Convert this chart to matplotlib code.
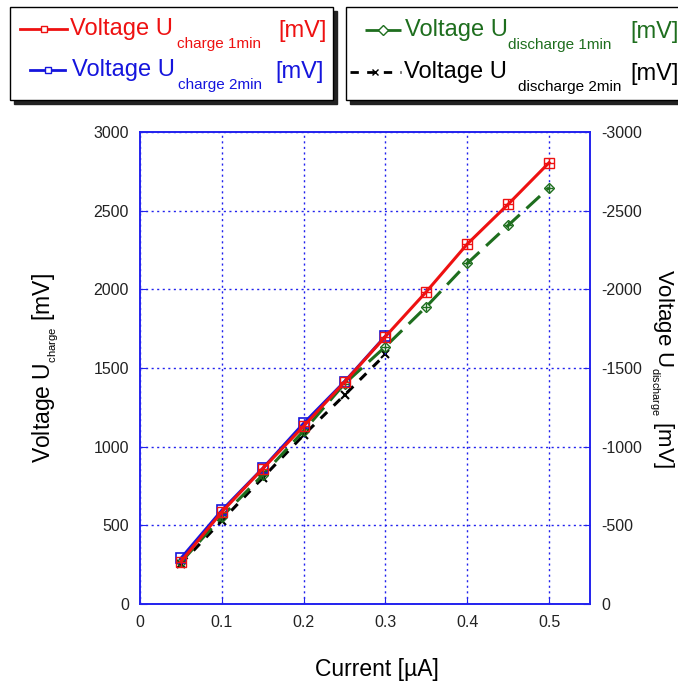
import matplotlib
matplotlib.use("Agg")
import matplotlib.pyplot as plt
from matplotlib.lines import Line2D
from matplotlib.patches import Rectangle

plt.rcParams['font.family'] = ['Liberation Sans', 'DejaVu Sans']
plt.rcParams['mathtext.fontset'] = 'custom'
plt.rcParams['mathtext.rm'] = 'Liberation Sans'

# data
current_1 = [0.05, 0.10, 0.15, 0.20, 0.25, 0.30, 0.35, 0.40, 0.45, 0.50]
charge_1min = [270, 585, 860, 1130, 1410, 1700, 1985, 2288, 2541, 2805]
discharge_1min = [265, 555, 820, 1100, 1400, 1636, 1890, 2165, 2407, 2646]

current_2 = [0.05, 0.10, 0.15, 0.20, 0.25, 0.30]
charge_2min = [290, 595, 862, 1148, 1413, 1703]
discharge_2min = [255, 530, 803, 1074, 1328, 1587]

xticks = [0, 0.1, 0.2, 0.3, 0.4, 0.5]
yticks = [0, 500, 1000, 1500, 2000, 2500, 3000]

RED = '#ee1111'
BLUE = '#1515dd'
GREEN = '#1e6e1e'
BLACK = '#000000'
AXBLUE = '#2222ee'

W, H = 678, 690
fig = plt.figure(figsize=(W / 100, H / 100), dpi=100)
ax = fig.add_axes([140 / W, 1 - 604 / H, 450 / W, 472 / H])

ax.plot(current_1, charge_1min, color=RED, lw=2.2, marker='s', ms=7,
        mfc='none', mec=RED, mew=1, zorder=4)
ax.plot(current_1, charge_1min, ls='none', marker='+', ms=7, mec=RED,
        mew=1, zorder=4)
ax.plot(current_2, charge_2min, color=BLUE, lw=2.2, marker='s', ms=7,
        mfc='none', mec=BLUE, mew=1.2, zorder=3)
ax.plot(current_1, discharge_1min, color=GREEN, lw=2.2, ls=(0, (6, 3)),
        marker='D', ms=5, mfc='none', mec=GREEN, zorder=2)
ax.plot(current_1, discharge_1min, ls='none', marker='+', ms=6, mec=GREEN,
        mew=1, zorder=2)
ax.plot(current_2, discharge_2min, color=BLACK, lw=2.2, ls=(0, (3, 3)),
        marker='x', ms=6, mew=1.5, zorder=1)

ax.set_xlim(0, 0.55)
ax.set_ylim(0, 3000)
ax.set_xticks(xticks)
ax.set_xticklabels(['0', '0.1', '0.2', '0.3', '0.4', '0.5'])
ax.set_yticks(yticks)
ax.grid(True, color=AXBLUE, ls=(0, (1.5, 2.5)), lw=1)
ax.tick_params(direction='in', length=5, color=AXBLUE, labelsize=11.5,
               labelcolor='#222222', pad=8)
for s in ax.spines.values():
    s.set_color(AXBLUE)
    s.set_linewidth(1.2)

ax2 = ax.twinx()
ax2.set_ylim(0, -3000)
ax2.set_yticks([-v for v in yticks])
ax2.set_yticklabels(['0', '-500', '-1000', '-1500', '-2000', '-2500', '-3000'])
ax2.tick_params(direction='in', length=5, color=AXBLUE, labelsize=11.5,
                labelcolor='#222222', pad=8)
for s in ax2.spines.values():
    s.set_color(AXBLUE)
    s.set_linewidth(1.2)

ax.set_xlabel('Current [µA]', fontsize=16.5)
ax.xaxis.set_label_coords(0.527, -0.115)
ax.set_ylabel(r'Voltage U$_{_{\mathregular{charge}}}$ [mV]', fontsize=16.5)
ax.yaxis.set_label_coords(-0.175, 0.5)
fig.text(676 / W, 1 - 368 / H,
         r'Voltage U$_{_{\mathregular{discharge}}}$ [mV]', fontsize=16,
         rotation=270, ha='right', va='center')


def px(x, y):
    return x / W, 1 - y / H


# legend boxes with shadow
for x0, x1 in [(10, 333), (346, 690)]:
    fig.patches.append(Rectangle(px(x0 + 4, 104), (x1 - x0) / W, 93 / H,
                                 transform=fig.transFigure, color='#222222',
                                 zorder=0))
    fig.patches.append(Rectangle(px(x0, 100), (x1 - x0) / W, 93 / H,
                                 transform=fig.transFigure, facecolor='white',
                                 edgecolor='black', lw=1, zorder=1))

entries = [
    # sample x0, x1, y, colour, ls, marker, text x, sub, sub x, unit x
    (20, 67, 29, RED, '-', 's', 70, 'charge 1min', 177, 278),
    (30, 65, 70, BLUE, '-', 's', 72, 'charge 2min', 178, 275),
    (365, 401, 30, GREEN, (0, (5, 3)), 'D', 405, 'discharge 1min', 508, 630),
    (350, 401, 72, BLACK, (0, (3, 3)), 'x', 404, 'discharge 2min', 518, 630),
]
for sx0, sx1, y, c, ls, mk, tx, sub, subx, ux in entries:
    fig.lines.append(Line2D([sx0 / W, sx1 / W], [1 - y / H, 1 - y / H],
                            transform=fig.transFigure, color=c, lw=2,
                            ls=ls, zorder=3))
    fig.lines.append(Line2D([(sx0 + sx1) / 2 / W], [1 - y / H],
                            transform=fig.transFigure, color=c, marker=mk,
                            ms=5, mfc='white', mec=c, mew=1, zorder=4))
    fig.text(*px(tx, y), 'Voltage U', color=c, fontsize=17, va='center',
             ha='left', zorder=5)
    fig.text(*px(subx, y + 15), sub, color=c, fontsize=11, va='center',
             ha='left', zorder=5)
    fig.text(*px(ux, y + 2), '[mV]', color=c, fontsize=17, va='center',
             ha='left', zorder=5)

fig.savefig('out.png', dpi=100)
